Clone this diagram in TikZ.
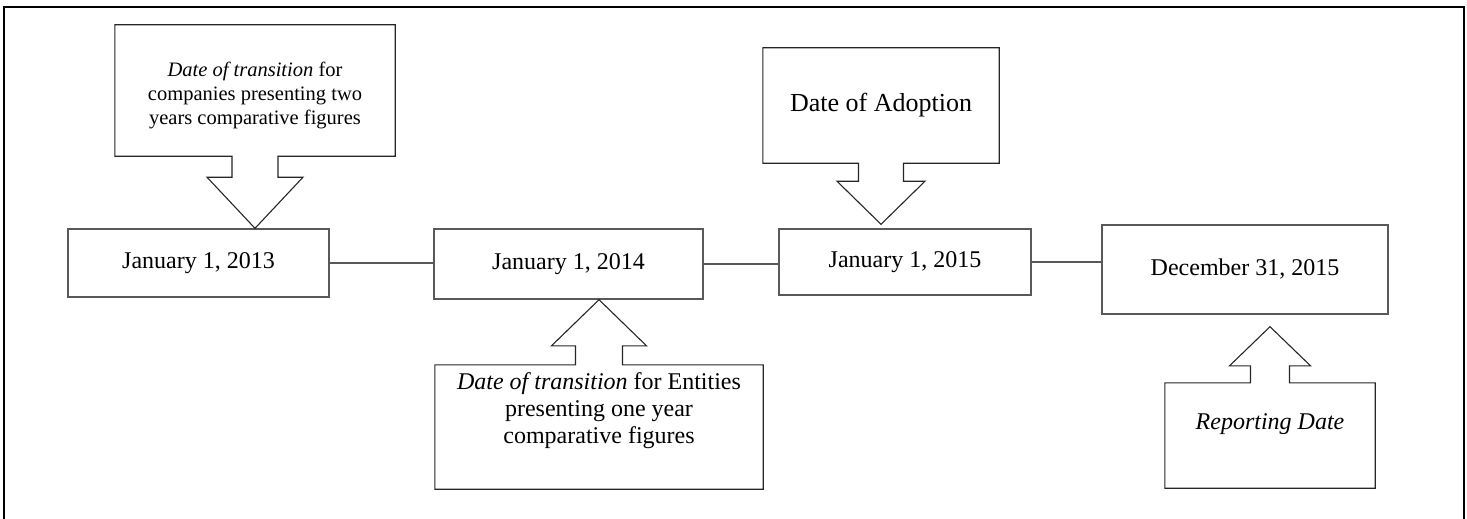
\documentclass[tikz,border=0pt]{standalone}
\usepackage{fontspec}
\setmainfont{Liberation Serif}
\usetikzlibrary{calc}
\tikzset{
  datebox/.style={draw=black!65, line width=1.4pt, inner sep=0pt, font=\fontsize{24}{28}\selectfont},
  callout/.style={inner sep=0pt, align=center},
  outline/.style={draw=black!85, line width=1.1pt},
  link/.style={draw=black!65, line width=1.3pt}
}
\begin{document}
\begin{tikzpicture}[x=1pt, y=-1pt, line join=miter]
 \useasboundingbox (0,0) rectangle (1467,519);
 % frame
 \draw[line width=2.5pt] (4,519) -- (4,7) -- (1464,7) -- (1464,519);
 % dates on the time line
 \node[datebox, minimum width=261pt, minimum height=68pt] (d13) at (198.5,263) {January 1, 2013};
 \node[datebox, minimum width=269pt, minimum height=70pt] (d14) at (568.5,264) {January 1, 2014};
 \node[datebox, minimum width=252pt, minimum height=66pt] (d15) at (905,262) {January 1, 2015};
 \node[datebox, minimum width=286pt, minimum height=89pt] (d31) at (1245,269.5) {December 31, 2015};
 \draw[link] (d13.east) -- (d13.east -| d14.west);
 \draw[link] (d14.east) -- (d14.east -| d15.west);
 \draw[link] (d15.east) -- (d15.east -| d31.west);
 % callouts
 \node[callout, minimum width=280pt, minimum height=131pt, text height=73pt, font=\fontsize{20.5}{24}\selectfont] (two) at (255,90.5)
   {\textit{Date of transition} for\\companies presenting two\\years comparative figures};
 \draw[outline] (two.north west) -- (two.north east) -- (two.south east) -- ($(two.south)+(23,0)$) -- ++(0,21) -- ++(25,0)
   -- (two.south |- d13.north) -- ($(two.south)+(-48,21)$) -- ++(25,0) -- ++(0,-21) -- (two.south west) -- cycle;
 \node[callout, minimum width=328pt, minimum height=124pt, text depth=37pt, font=\fontsize{24}{27}\selectfont] (one) at (599,427)
   {\textit{Date of transition} for Entities\\presenting one year\\comparative figures};
 \draw[outline] (one.south west) -- (one.south east) -- (one.north east) -- ($(one.north)+(23.5,0)$) -- ++(0,-19) -- ++(24,0)
   -- (one.north |- d14.south) -- ($(one.north)+(-47.5,-19)$) -- ++(24,0) -- ++(0,19) -- (one.north west) -- cycle;
 \node[callout, minimum width=236pt, minimum height=115pt, font=\fontsize{26}{30}\selectfont] (adopt) at (881,105.5) {Date of Adoption};
 \draw[outline] (adopt.north west) -- (adopt.north east) -- (adopt.south east) -- ($(adopt.south)+(22.5,0)$) -- ++(0,18) -- ++(21.5,0)
   -- ($(adopt.south |- d15.north)+(0,-4)$) -- ($(adopt.south)+(-44,18)$) -- ++(21.5,0) -- ++(0,-18) -- (adopt.south west) -- cycle;
 \node[callout, minimum width=210pt, minimum height=105pt, text depth=27pt, font=\fontsize{24}{28}\selectfont] (report) at (1270,435.5)
   {\textit{Reporting Date}};
 \draw[outline] (report.south west) -- (report.south east) -- (report.north east) -- ($(report.north)+(19.5,0)$) -- ++(0,-17) -- ++(21,0)
   -- ($(report.north |- d31.south)+(0,12)$) -- ($(report.north)+(-40.5,-17)$) -- ++(21,0) -- ++(0,17) -- (report.north west) -- cycle;
\end{tikzpicture}
\end{document}
